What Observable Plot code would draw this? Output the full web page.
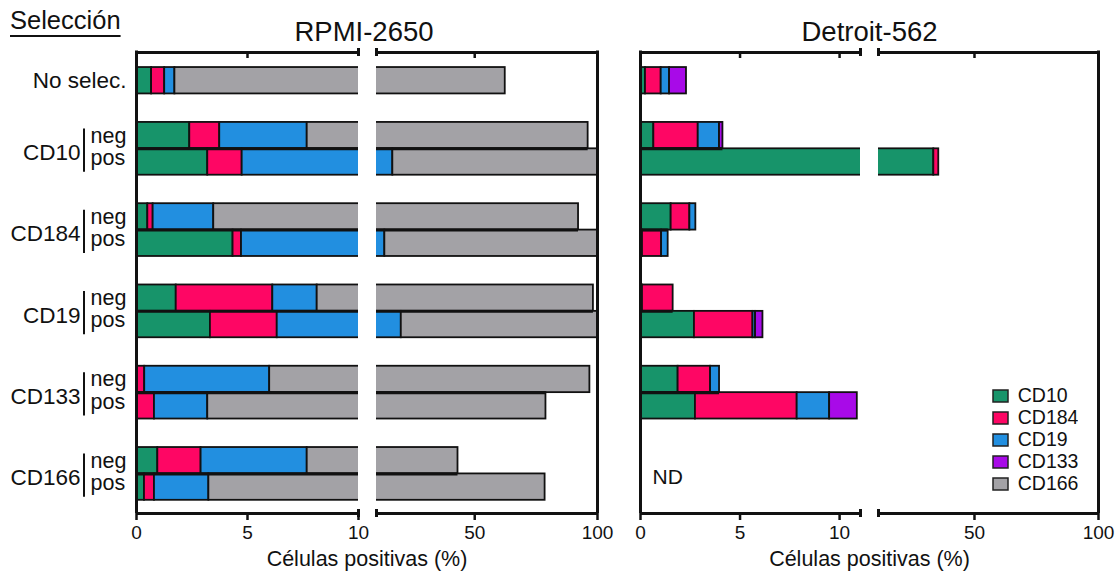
<!DOCTYPE html>
<html><head><meta charset="utf-8">
<script src="https://cdn.jsdelivr.net/npm/d3@7"></script>
<script src="https://cdn.jsdelivr.net/npm/@observablehq/plot@0.6"></script>
<style>
body{margin:0;background:#fff;font-family:'Liberation Sans',Arial,sans-serif;color:#111;}
#wrap{position:relative;width:1118px;height:580px;overflow:hidden;background:#fff;}
#left,#right,#legend,#sel{position:absolute;}
#left{left:0;top:0}
#right{left:620px;top:0}
#sel{left:10px;top:6px;font-size:25.5px;line-height:28px;text-decoration:underline;text-decoration-thickness:2px;text-underline-offset:6px;}
#legend{left:993px;top:385px}
#legend svg{overflow:visible}
#legend rect{stroke:#222;stroke-width:1.5px}
</style></head><body>
<div id="wrap"><div id="left"></div><div id="right"></div><div id="sel">Selección</div><div id="legend"></div></div>
<script>
// ---- data ----
const markers = ["CD10", "CD184", "CD19", "CD133", "CD166"];
const markerColors = ["#17946a", "#fe0664", "#228fe0", "#a80ae8", "#a3a2a6"];
const groups = ["No selec.", "CD10", "CD184", "CD19", "CD133", "CD166"];
const rowGroup = ["No selec.", "CD10", "CD10", "CD184", "CD184", "CD19", "CD19", "CD133", "CD133", "CD166", "CD166"];
const rowSub = ["", "neg", "pos", "neg", "pos", "neg", "pos", "neg", "pos", "neg", "pos"];
const xTicks = [0, 5, 10, 50, 100];

// RPMI-2650 (% positive cells per marker, stacked)
const rpmiCD10  = [0.68, 2.40, 3.21, 0.51, 4.35, 1.79, 3.33, 0, 0, 0.96, 0.36];
const rpmiCD184 = [0.59, 1.35, 1.55, 0.24, 0.38, 4.35, 3.01, 0.37, 0.81, 1.95, 0.45];
const rpmiCD19  = [0.46, 3.94, 11.89, 2.73, 8.67, 2.00, 13.76, 5.63, 2.40, 4.78, 2.45];
const rpmiCD133 = [0, 0, 0, 0, 0, 0, 0, 0, 0, 0, 0];
const rpmiCD166 = [60.7, 88.5, 83.35, 88.8, 86.6, 90.2, 79.9, 90.9, 75.8, 35.5, 75.4];

// Detroit-562 (null = ND)
const detCD10  = [0.25, 0.67, 33.6, 1.54, 0.1, 0.1, 2.71, 1.89, 2.76, null, null];
const detCD184 = [0.79, 2.23, 2.0, 0.94, 0.96, 1.54, 2.94, 1.63, 5.11, null, null];
const detCD19  = [0.42, 1.07, 0, 0.30, 0.33, 0, 0.13, 0.45, 1.63, null, null];
const detCD133 = [0.85, 0.17, 0, 0, 0, 0, 0.37, 0, 1.39, null, null];
const detCD166 = [0, 0, 0, 0, 0, 0, 0, 0, 0, null, null];

// ---- layout helpers ----
const step = 3.08, yTop = 0.43, yBottom = 17.9;
const FONT = "'Liberation Sans', Arial, sans-serif";
const gIndex = g => groups.indexOf(g);
const rowTop = i => gIndex(rowGroup[i]) * step + (rowSub[i] === "neg" ? 0 : 1);

function build(series) {
  const segs = [], totals = [];
  rowGroup.forEach((g, i) => {
    let c = 0, any = false;
    markers.forEach((m, k) => {
      const v = series[k][i];
      if (v == null) return;
      any = true;
      if (v <= 0) return;
      segs.push({marker: m, x1: c, x2: c + v, y1: rowTop(i), y2: rowTop(i) + 1});
      c += v;
    });
    totals.push(any ? c : null);
  });
  const mids = [];
  groups.forEach((g, gi) => {
    const idx = rowGroup.map((r, i) => r === g ? i : -1).filter(i => i >= 0);
    if (idx.length === 2 && totals[idx[0]] && totals[idx[1]])
      mids.push({y: gi * step + 1, x: Math.min(totals[idx[0]], totals[idx[1]])});
  });
  const nd = groups.filter(g => rowGroup.every((r, i) => r !== g || totals[i] == null));
  return {segs, mids, nd};
}

function panel({series, title, domain, range, width, marginLeft, marginRight, topTicks, rowLabels, titleDx}) {
  const {segs, mids, nd} = build(series);
  const gapFrom = domain[1], gapTo = domain[2], x0 = domain[0], xEnd = domain[3];
  const marks = [
    Plot.rect(segs, {x1: "x1", x2: "x2", y1: "y1", y2: "y2", fill: "marker", stroke: "#111", strokeWidth: 1.8}),
    Plot.ruleY(mids, {x1: 0, x2: "x", y: "y", stroke: "#111", strokeWidth: 3}),
    Plot.rect([0], {x1: gapFrom, x2: gapTo, y1: yTop, y2: yBottom, fill: "white", insetTop: -4, insetBottom: -4}),
    Plot.ruleY([yTop, yBottom].flatMap(y => [{y, x1: x0, x2: gapFrom}, {y, x1: gapTo, x2: xEnd}]),
      {x1: "x1", x2: "x2", y: "y", stroke: "#111", strokeWidth: 3}),
    Plot.ruleX([x0, xEnd], {y1: yTop, y2: yBottom, stroke: "#111", strokeWidth: 3, insetTop: -1.5}),
    Plot.ruleX([gapFrom, gapTo].flatMap(x => [{x, y: yTop}, {x, y: yBottom}]),
      {x: "x", y1: "y", y2: "y", insetTop: -4, insetBottom: -4, stroke: "#111", strokeWidth: 3}),
    Plot.ruleX(topTicks, {y1: yTop, y2: yTop, insetBottom: -6, stroke: "#111", strokeWidth: 2.5}),
    Plot.axisX({ticks: xTicks, tickFormat: d => String(d), tickSize: 7, tickPadding: 5, fontSize: 19, stroke: "#111", strokeWidth: 2.5, label: null}),
    Plot.text([title], {frameAnchor: "top", dy: -31, dx: titleDx, fontSize: 27.5}),
    Plot.text(["Células positivas (%)"], {frameAnchor: "bottom", dy: 52, fontSize: 21.5}),
    Plot.text(nd, {y: g => gIndex(g) * step + 1, text: () => "ND", frameAnchor: "left", textAnchor: "start", dx: 12, dy: 3, fontSize: 21})
  ];
  if (rowLabels) {
    const grp = groups.slice(1);
    marks.push(
      Plot.text([groups[0]], {y: g => gIndex(g) * step + 1.5, text: d => d, frameAnchor: "left", textAnchor: "end", dx: -10, fontSize: 22.5}),
      Plot.text(grp, {y: g => gIndex(g) * step + 1, text: d => d, frameAnchor: "left", textAnchor: "end", dx: -56, dy: 4, fontSize: 22.5}),
      Plot.ruleX(grp, {x: 0, y1: g => gIndex(g) * step, y2: g => gIndex(g) * step + 2, dx: -52.5, insetTop: 6.5, insetBottom: 3, stroke: "#111", strokeWidth: 2}),
      Plot.text(rowSub.map((s, i) => i).filter(i => rowSub[i] === "neg"), {y: i => rowTop(i) + 0.5, text: i => rowSub[i], frameAnchor: "left", textAnchor: "start", dx: -46, dy: 0, fontSize: 21.5}),
      Plot.text(rowSub.map((s, i) => i).filter(i => rowSub[i] === "pos"), {y: i => rowTop(i) + 0.5, text: i => rowSub[i], frameAnchor: "left", textAnchor: "start", dx: -46, dy: -4, fontSize: 21.5})
    );
  }
  return Plot.plot({
    width, height: 580, marginLeft, marginRight, marginTop: 52, marginBottom: 67,
    style: {fontFamily: FONT, color: "#111", background: "transparent", overflow: "visible"},
    x: {type: "linear", domain, range, axis: null},
    y: {type: "linear", domain: [yTop, yBottom], range: [52, 513], axis: null},
    color: {domain: markers, range: markerColors},
    marks
  });
}

document.getElementById("left").appendChild(panel({
  series: [rpmiCD10, rpmiCD184, rpmiCD19, rpmiCD133, rpmiCD166],
  title: "RPMI-2650", domain: [0, 10, 10.0001, 100], range: [136, 358, 376, 597],
  width: 620, marginLeft: 136, marginRight: 23, topTicks: [5, 50], rowLabels: true, titleDx: -3
}));
document.getElementById("right").appendChild(panel({
  series: [detCD10, detCD184, detCD19, detCD133, detCD166],
  title: "Detroit-562", domain: [0, 11.05, 11.3, 100], range: [20, 240, 258, 478],
  width: 498, marginLeft: 20, marginRight: 20, topTicks: [5, 10, 50], rowLabels: false, titleDx: 0
}));
document.getElementById("legend").appendChild(Plot.legend({
  color: {domain: markers, range: markerColors}, legend: "swatches", columns: 1,
  swatchWidth: 15, swatchHeight: 12,
  style: {fontSize: "19.5px", fontFamily: FONT, lineHeight: "21px", color: "#111"}
}));
</script>
</body></html>
